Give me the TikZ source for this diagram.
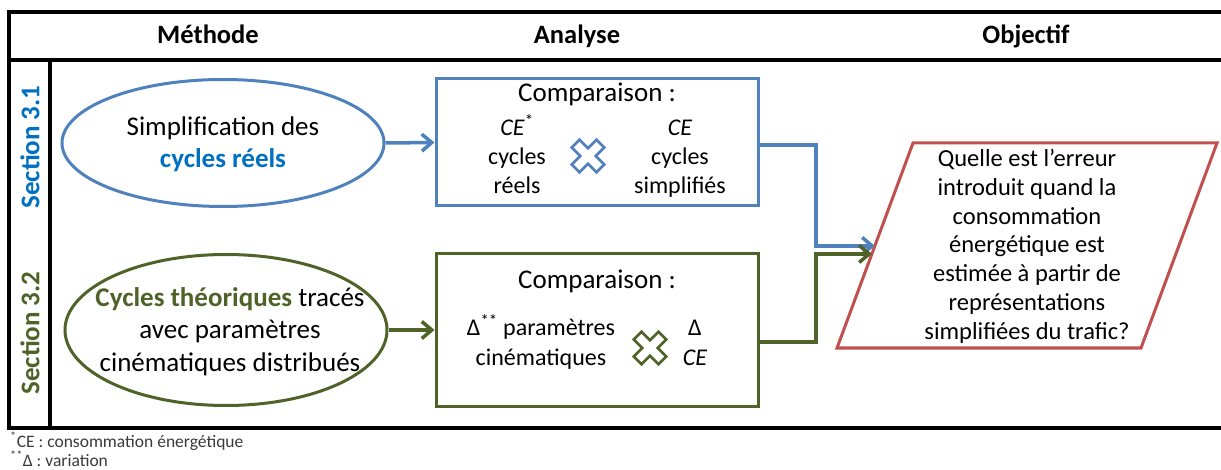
\documentclass[tikz,border=0pt]{standalone}
\usepackage{fontspec}
\setmainfont{Carlito}
\usetikzlibrary{shapes.geometric,arrows.meta,calc}
\definecolor{bl}{HTML}{4F81BD}
\definecolor{blt}{HTML}{0070C0}
\definecolor{gr}{HTML}{4F6228}
\definecolor{rd}{HTML}{C0504D}
\definecolor{ft}{HTML}{3A3A3A}
\begin{document}
\begin{tikzpicture}[x=1pt,y=-1pt,
  frame/.style={line width=3.5pt,black},
  hdr/.style={font=\fontsize{26.5}{30}\selectfont\bfseries,inner sep=0pt,anchor=base},
  txt/.style={font=\fontsize{27}{29.5}\selectfont,align=center,inner sep=0pt,anchor=base},
  sml/.style={font=\fontsize{24}{29}\selectfont},
  ell/.style={ellipse,draw,line width=3pt,inner sep=0pt,minimum width=322pt},
  boxs/.style={draw,line width=3pt,inner sep=0pt,minimum width=322pt},
  arr/.style={line width=3.5pt,-{Straight Barb[length=10pt,width=17pt]}},
  fn/.style={font=\fontsize{17.5}{20}\selectfont,text=ft,inner sep=0pt,anchor=base west},
  sect/.style={font=\fontsize{27}{30}\selectfont\bfseries,rotate=90,inner sep=0pt},
  crossmark/.pic={\draw[pic actions,line width=2.6pt,line join=miter,rotate=45]
     (5.5,17.5) -- (5.5,5.5) -- (17.5,5.5) -- (17.5,-5.5) -- (5.5,-5.5) -- (5.5,-17.5)
     -- (-5.5,-17.5) -- (-5.5,-5.5) -- (-17.5,-5.5) -- (-17.5,5.5) -- (-5.5,5.5) -- (-5.5,17.5) -- cycle;}
]
\useasboundingbox (0,0) rectangle (1221,470);
% frame
\draw[frame] (1226,12) -- (9,12) -- (9,428) -- (1226,428);
\draw[frame] (9,60) -- (1226,60);
\draw[frame] (50,60) -- (50,428);
% headers
\node[hdr] (hm) at (208,44) {Méthode};
\node[hdr] (ha) at (577,44) {Analyse};
\node[hdr] (ho) at (1026,44) {Objectif};
% section labels
\node[sect,text=blt] (s1) at (30,147) {Section 3.1};
\node[sect,text=gr] (s2) at (30,333) {Section 3.2};
% ellipses
\node[ell,draw=bl,minimum height=127pt] (e1) at (223,143) {};
\node[txt,font=\fontsize{27}{32.5}\selectfont] (e1t) at (223,168) {Simplification des\\\textcolor{blt}{\bfseries cycles réels}};
\node[ell,draw=gr,minimum height=151pt] (e2) at (226,330) {};
\node[txt,font=\fontsize{27}{32.5}\selectfont] (e2t) at (230,371) {\textcolor{gr}{\bfseries Cycles théoriques} tracés\\avec paramètres\\cinématiques distribués};
% boxes
\node[boxs,draw=bl,minimum height=127pt] (b1) at (597,142.5) {};
\node[txt] (b1h) at (597,102) {Comparaison :};
\node[txt,sml] (b1l) at (517,194) {\textit{CE}\textsuperscript{*}\\cycles\\réels};
\node[txt,sml] (b1r) at (680,194) {\textit{CE}\\cycles\\simplifiés};
\pic[draw=bl] at (588,156) {crossmark};
\node[boxs,draw=gr,minimum height=152pt] (b2) at (597,330) {};
\node[txt] (b2h) at (597,289) {Comparaison :};
\node[txt,sml] (b2l) at (541,365) {Δ\textsuperscript{**} paramètres\\cinématiques};
\node[txt,sml] (b2r) at (695,365) {Δ\\\textit{CE}};
\pic[draw=gr] at (650,348) {crossmark};
% parallelogram
\coordinate (pTL) at (913,143);
\coordinate (pTR) at (1217,143);
\coordinate (pBR) at (1141,348);
\coordinate (pBL) at (837,348);
\draw[rd,line width=3pt] (pTL) -- (pTR) -- (pBR) -- (pBL) -- cycle;
\node[txt,font=\fontsize{24.5}{28.7}\selectfont] (q) at (1027,339) {Quelle est l’erreur\\introduit quand la\\consommation\\énergétique est\\estimée à partir de\\représentations\\simplifiées du trafic?};
\coordinate (pin1) at ($(pTL)!0.502!(pBL)$);
\coordinate (pin2) at ($(pTL)!0.541!(pBL)$);
\coordinate (mx) at (816,0);
\coordinate (b1o) at ([yshift=-2.5pt]b1.east);
\coordinate (b2o) at ([yshift=-12pt]b2.east);
% connectors
\draw[arr,bl] (e1.east) -- (b1.west);
\draw[arr,gr] (e2.east) -- (b2.west);
\draw[arr,bl] (b1o) -- (b1o -| mx) |- (pin1);
\draw[arr,gr] (b2o) -- (b2o -| mx) |- (pin2);
% footnotes
\node[fn] (f1) at (10,447) {\textsuperscript{*}CE : consommation énergétique};
\node[fn] (f2) at (10,466) {\textsuperscript{**}Δ : variation};
\end{tikzpicture}
\end{document}
